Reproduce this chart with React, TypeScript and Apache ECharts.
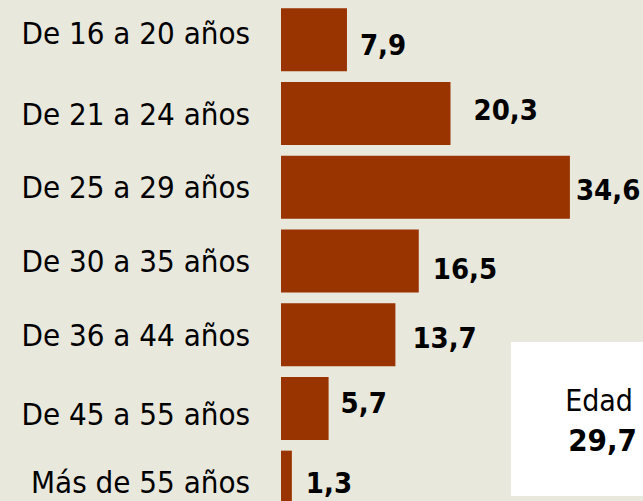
import React, { useEffect, useRef } from "react";
import * as echarts from "echarts";

const categories = [
  "De 16 a 20 años",
  "De 21 a 24 años",
  "De 25 a 29 años",
  "De 30 a 35 años",
  "De 36 a 44 años",
  "De 45 a 55 años",
  "Más de 55 años",
];
const values = [7.9, 20.3, 34.6, 16.5, 13.7, 5.7, 1.3];
const boxTitle = "Edad";
const boxValue = "29,7";

// label nudges (layout only)
const labelOffsets: [number, number][] = [
  [3, 5],
  [13, -4],
  [-4, 3],
  [4, 8],
  [7, 3],
  [2, -5],
  [4, 1],
];

const FONT = "'DejaVu Sans Condensed', 'DejaVu Sans', sans-serif";
const fmt = (v: number) => v.toFixed(1).replace(".", ",");

export default function App() {
  const ref = useRef<HTMLDivElement>(null);
  useEffect(() => {
    if (!ref.current) return;
    const chart = echarts.init(ref.current, undefined, { renderer: "svg" });
    chart.setOption({
      animation: false,
      backgroundColor: "#e9e8dd",
      grid: { left: 281, top: 3, width: 334, height: 516 },
      xAxis: {
        type: "value",
        min: 0,
        max: 40,
        show: false,
      },
      yAxis: {
        type: "category",
        inverse: true,
        data: categories,
        axisLine: { show: false },
        axisTick: { show: false },
        splitLine: { show: false },
        axisLabel: {
          margin: 31,
          color: "#000",
          fontFamily: FONT,
          fontSize: 31,
          formatter: (v: string, i: number) =>
            i === 0 ? `{up|${v}}` : i === 5 ? `{down|${v}}` : `{n|${v}}`,
          rich: {
            n: { fontFamily: FONT, fontSize: 31, color: "#000" },
            up: { fontFamily: FONT, fontSize: 31, color: "#000", padding: [0, 0, 14, 0] },
            down: { fontFamily: FONT, fontSize: 31, color: "#000", padding: [11, 0, 0, 0] },
          },
        },
      },
      series: [
        {
          type: "bar",
          barWidth: 63,
          itemStyle: { color: "#993300" },
          label: {
            show: true,
            position: "right",
            distance: 10,
            color: "#000",
            fontFamily: FONT,
            fontWeight: "bold",
            fontSize: 29,
            formatter: (p: any) => fmt(p.value),
          },
          data: values.map((v, i) => ({ value: v, label: { offset: labelOffsets[i] } })),
        },
      ],
      graphic: [
        {
          type: "rect",
          shape: { x: 511, y: 342, width: 140, height: 154 },
          style: { fill: "#ffffff" },
        },
        {
          type: "text",
          style: {
            x: 633,
            y: 400,
            text: boxTitle,
            align: "right",
            verticalAlign: "middle",
            font: `30px ${FONT}`,
            fill: "#000",
          },
        },
        {
          type: "text",
          style: {
            x: 637,
            y: 440,
            text: boxValue,
            align: "right",
            verticalAlign: "middle",
            font: `bold 31px ${FONT}`,
            fill: "#000",
          },
        },
      ],
    });
    return () => chart.dispose();
  }, []);
  return (
    <div
      style={{
        position: "fixed",
        left: 0,
        top: 0,
        width: 643,
        height: 501,
        overflow: "hidden",
        background: "#e9e8dd",
      }}
    >
      <div ref={ref} style={{ width: 643, height: 530 }} />
    </div>
  );
}
